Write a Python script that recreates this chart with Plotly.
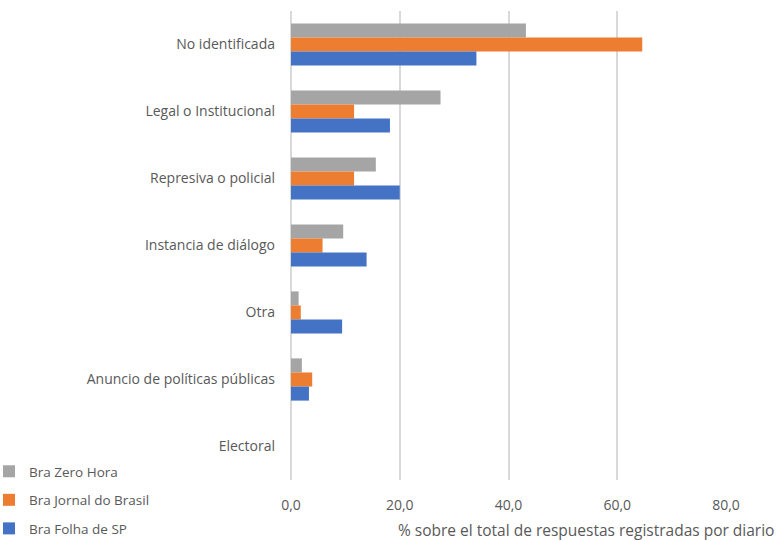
import plotly.graph_objects as go

# Categories (top to bottom) and share of responses per newspaper (%)
categorias = [
    "No identificada",
    "Legal o Institucional",
    "Represiva o policial",
    "Instancia de diálogo",
    "Otra",
    "Anuncio de políticas públicas",
    "Electoral",
]
zero_hora = [43.2, 27.5, 15.6, 9.6, 1.4, 2.0, 0.0]
jornal_do_brasil = [64.6, 11.6, 11.6, 5.8, 1.8, 3.9, 0.0]
folha_de_sp = [34.1, 18.2, 20.0, 13.9, 9.4, 3.3, 0.0]

x_ticks = [0, 20, 40, 60, 80]

series = [
    ("Bra Zero Hora", zero_hora, "#A5A5A5"),
    ("Bra Jornal do Brasil", jornal_do_brasil, "#ED7D31"),
    ("Bra Folha de SP", folha_de_sp, "#4472C4"),
]

TEXT = "#595959"
FONT = "Open Sans"
FS = 14

W, H = 780, 541
ML, MR, MT, MB = 291, 54, 11, 61
PW, PH = W - ML - MR, H - MT - MB

fig = go.Figure()
for name, vals, color in series:
    fig.add_trace(go.Bar(
        y=categorias, x=vals, name=name, orientation="h",
        marker=dict(color=color, line=dict(width=0)),
        legendgroup=name,
    ))

fig.update_layout(
    width=W, height=H,
    margin=dict(l=ML, r=MR, t=MT, b=MB, autoexpand=False),
    paper_bgcolor="white", plot_bgcolor="white",
    barmode="group", bargap=0.37, bargroupgap=0,
    separators=",.",
    font=dict(family=FONT, size=FS, color=TEXT),
    showlegend=True,
    legend=dict(
        xref="paper", yref="paper",
        x=(-11 - ML) / PW, y=(H - MB - 456) / PH,
        xanchor="left", yanchor="top",
        traceorder="grouped", tracegroupgap=8,
        font=dict(family=FONT, size=FS - 0.5, color=TEXT),
        bgcolor="rgba(0,0,0,0)",
    ),
    xaxis=dict(
        range=[0, 80], tickvals=x_ticks, tickformat=".1f",
        showgrid=True, gridcolor="#D9D9D9", gridwidth=2,
        zeroline=True, zerolinecolor="#D9D9D9", zerolinewidth=2,
        showline=False, ticks="", ticklabelstandoff=15,
        tickfont=dict(family=FONT, size=FS, color=TEXT),
    ),
    yaxis=dict(
        categoryorder="array", categoryarray=categorias,
        autorange="reversed", showgrid=False, zeroline=False,
        showline=False, ticks="", ticklabelstandoff=15,
        tickfont=dict(family=FONT, size=FS, color=TEXT),
    ),
    annotations=[dict(
        text="% sobre el total de respuestas registradas por diario",
        xref="paper", yref="paper",
        x=(776 - ML) / PW, y=-(530 - (H - MB)) / PH,
        xanchor="right", yanchor="middle",
        showarrow=False, font=dict(family=FONT, size=15.5, color=TEXT),
    )],
)

fig.write_html("out.html")
